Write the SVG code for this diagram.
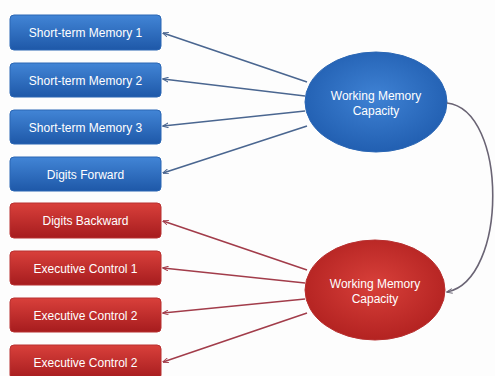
<svg xmlns="http://www.w3.org/2000/svg" width="495" height="376" viewBox="0 0 495 376">
<defs>
<linearGradient id="gb" x1="0" y1="0" x2="0" y2="1">
<stop offset="0" stop-color="#4285d6"/><stop offset="1" stop-color="#1e58a8"/>
</linearGradient>
<linearGradient id="gr" x1="0" y1="0" x2="0" y2="1">
<stop offset="0" stop-color="#d9403b"/><stop offset="1" stop-color="#a61c1e"/>
</linearGradient>
<radialGradient id="eb" cx="0.5" cy="0.45" r="0.6">
<stop offset="0" stop-color="#3f82d4"/><stop offset="1" stop-color="#1f5cae"/>
</radialGradient>
<radialGradient id="er" cx="0.5" cy="0.45" r="0.6">
<stop offset="0" stop-color="#d8403a"/><stop offset="1" stop-color="#b0201f"/>
</radialGradient>
<marker id="ab" viewBox="0 0 10 10" refX="9" refY="5" markerWidth="6" markerHeight="6" orient="auto" markerUnits="userSpaceOnUse">
<path d="M0,1 L10,5 L0,9" fill="none" stroke="#4a6690" stroke-width="1.6"/>
</marker>
<marker id="ar" viewBox="0 0 10 10" refX="9" refY="5" markerWidth="6" markerHeight="6" orient="auto" markerUnits="userSpaceOnUse">
<path d="M0,1 L10,5 L0,9" fill="none" stroke="#a23c4a" stroke-width="1.6"/>
</marker>
<marker id="ag" viewBox="0 0 10 10" refX="9" refY="5" markerWidth="6" markerHeight="6" orient="auto" markerUnits="userSpaceOnUse">
<path d="M0,1 L10,5 L0,9" fill="none" stroke="#6a6474" stroke-width="1.6"/>
</marker>
</defs>
<style>
.bb{fill:url(#gb);stroke:#2a66b4;stroke-width:1}
.rb{fill:url(#gr);stroke:#b83030;stroke-width:1}
.t{font-family:"Liberation Sans",Arial,sans-serif;font-size:12px;fill:#ffffff;text-anchor:middle}
.lb{stroke:#4a6690;stroke-width:1.6;fill:none;marker-end:url(#ab)}
.lr{stroke:#a23c4a;stroke-width:1.6;fill:none;marker-end:url(#ar)}
.lg{stroke:#6a6474;stroke-width:1.6;fill:none;marker-end:url(#ag)}
</style>
<rect width="495" height="376" fill="#fdfdfd"/>
<g id="stm1"><rect class="bb" x="10" y="15" width="151" height="35" rx="4"/><text class="t" x="85.5" y="37">Short-term Memory 1</text></g>
<g id="stm2"><rect class="bb" x="10" y="63" width="151" height="34" rx="4"/><text class="t" x="85.5" y="84.5">Short-term Memory 2</text></g>
<g id="stm3"><rect class="bb" x="10" y="110" width="151" height="34" rx="4"/><text class="t" x="85.5" y="131.5">Short-term Memory 3</text></g>
<g id="df"><rect class="bb" x="10" y="157" width="151" height="34" rx="4"/><text class="t" x="85.5" y="178.5">Digits Forward</text></g>
<g id="db"><rect class="rb" x="10" y="203" width="151" height="35" rx="4"/><text class="t" x="85.5" y="224.5">Digits Backward</text></g>
<g id="ec1"><rect class="rb" x="10" y="251" width="151" height="34" rx="4"/><text class="t" x="85.5" y="272.5">Executive Control 1</text></g>
<g id="ec2"><rect class="rb" x="10" y="298" width="151" height="34" rx="4"/><text class="t" x="85.5" y="319.5">Executive Control 2</text></g>
<g id="ec3"><rect class="rb" x="10" y="345" width="151" height="34" rx="4"/><text class="t" x="85.5" y="366.5">Executive Control 2</text></g>
<g id="wmc1"><ellipse cx="376" cy="102" rx="71" ry="50" fill="url(#eb)" stroke="#2a66b4"/><text class="t" x="376" y="100">Working Memory</text><text class="t" x="376" y="115">Capacity</text></g>
<g id="wmc2"><ellipse cx="375" cy="290" rx="70" ry="50" fill="url(#er)" stroke="#b83030"/><text class="t" x="375" y="288">Working Memory</text><text class="t" x="375" y="303">Capacity</text></g>
<g id="connectors">
<line class="lb" x1="307" y1="82" x2="163" y2="33"/>
<line class="lb" x1="305" y1="96" x2="163" y2="79"/>
<line class="lb" x1="305" y1="111" x2="163" y2="126"/>
<line class="lb" x1="307" y1="126" x2="163" y2="173"/>
<line class="lr" x1="307" y1="270" x2="163" y2="221"/>
<line class="lr" x1="305" y1="283" x2="163" y2="268"/>
<line class="lr" x1="305" y1="299" x2="163" y2="313"/>
<line class="lr" x1="307" y1="313" x2="163" y2="362"/>
<path class="lg" d="M447,103 C508,110 508,280 447,292"/>
</g>
</svg>
